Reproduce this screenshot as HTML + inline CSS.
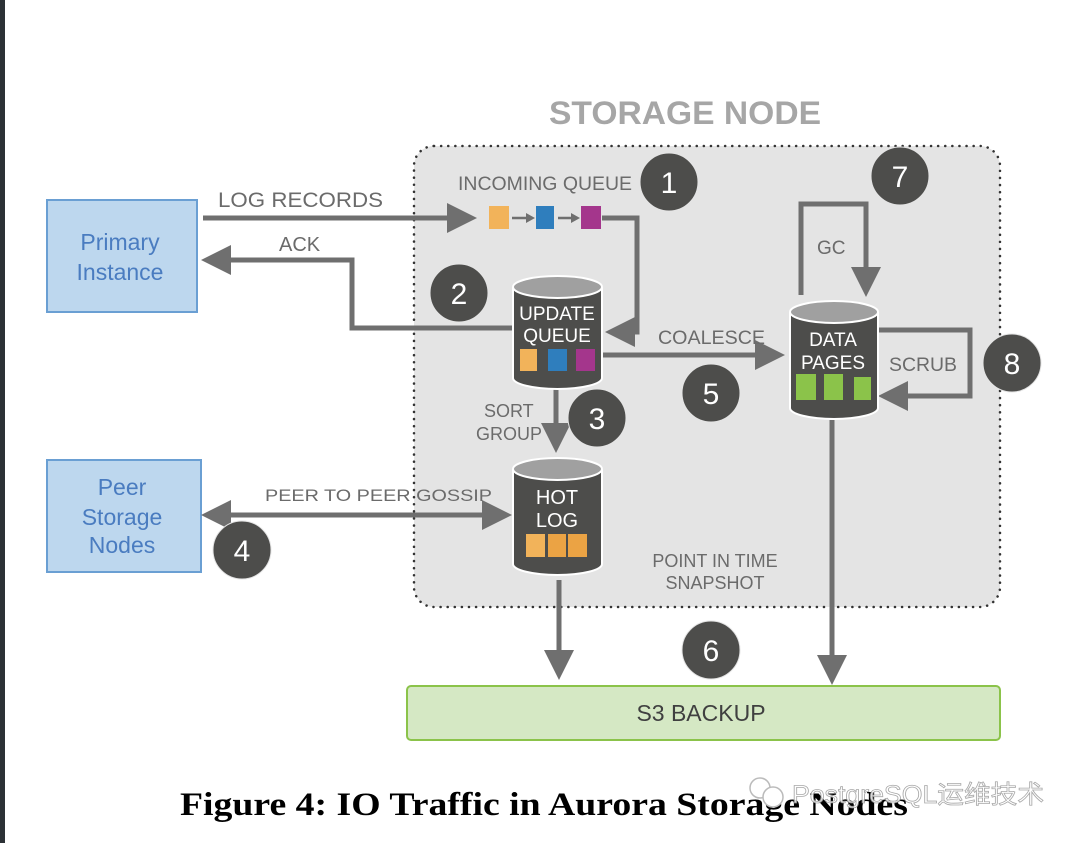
<!DOCTYPE html>
<html><head><meta charset="utf-8"><style>
html,body{margin:0;padding:0;background:#fff}
svg{display:block}
</style></head><body>
<svg width="1080" height="843" viewBox="0 0 1080 843" xmlns="http://www.w3.org/2000/svg" font-family="Liberation Sans, sans-serif">
<defs>
<marker id="ah" markerWidth="6" markerHeight="6" refX="3" refY="3" orient="auto-start-reverse" markerUnits="strokeWidth"><path d="M0,0 L6,3 L0,6z" fill="#6f6f6f"/></marker>
</defs>
<rect x="0" y="0" width="5" height="843" fill="#2c3136"/>
<text x="685" y="124" text-anchor="middle" font-size="32" font-weight="bold" fill="#a6a6a6" textLength="272" lengthAdjust="spacingAndGlyphs">STORAGE NODE</text>
<rect x="414" y="146" width="586" height="461" rx="20" fill="#e4e4e4" stroke="#333" stroke-width="2.5" stroke-dasharray="0.1 7" stroke-linecap="round"/>

<rect x="47" y="200" width="150" height="112" fill="#bdd7ee" stroke="#6a9fd3" stroke-width="2"/>
<text x="120" y="250" text-anchor="middle" font-size="23" fill="#4a7cc0">Primary</text>
<text x="120" y="280" text-anchor="middle" font-size="23" fill="#4a7cc0">Instance</text>
<rect x="47" y="460" width="154" height="112" fill="#bdd7ee" stroke="#6a9fd3" stroke-width="2"/>
<text x="122" y="495" text-anchor="middle" font-size="23" fill="#4a7cc0">Peer</text>
<text x="122" y="525" text-anchor="middle" font-size="23" fill="#4a7cc0">Storage</text>
<text x="122" y="553" text-anchor="middle" font-size="23" fill="#4a7cc0">Nodes</text>

<g stroke="#6f6f6f" stroke-width="5" fill="none">
<path d="M203,218 H462" marker-end="url(#ah)"/>
<path d="M602,218 H637 V332 H620" marker-end="url(#ah)"/>
<path d="M512,328 H352 V260 H216" marker-end="url(#ah)"/>
<path d="M602,355 H770" marker-end="url(#ah)"/>
<path d="M801,295 V204 H866 V282" marker-end="url(#ah)"/>
<path d="M878,330 H970 V396 H893" marker-end="url(#ah)"/>
<path d="M556,388 V438" marker-end="url(#ah)"/>
<path d="M216,515 H497" marker-end="url(#ah)" marker-start="url(#ah)"/>
<path d="M559,580 V665" marker-end="url(#ah)"/>
<path d="M832,420 V670" marker-end="url(#ah)"/>
</g>
<g stroke="#6f6f6f" stroke-width="2.5">
<path d="M512,218 H526"/><path d="M558,218 H571"/>
</g>
<path d="M526,213 L535,218 L526,223z M571,213 L580,218 L571,223z" fill="#6f6f6f"/>
<rect x="489" y="206" width="20" height="23" fill="#f2b35a"/>
<rect x="536" y="206" width="18" height="23" fill="#2f7ebd"/>
<rect x="581" y="206" width="20" height="23" fill="#a4368c"/>

<g font-size="19" fill="#6b6b6b">
<text x="218" y="207" font-size="21" textLength="165" lengthAdjust="spacingAndGlyphs">LOG RECORDS</text>
<text x="279" y="251" font-size="20">ACK</text>
<text x="458" y="190" textLength="174" lengthAdjust="spacingAndGlyphs">INCOMING QUEUE</text>
<text x="658" y="344" textLength="107" lengthAdjust="spacingAndGlyphs">COALESCE</text>
<text x="817" y="254">GC</text>
<text x="889" y="371" textLength="68" lengthAdjust="spacingAndGlyphs">SCRUB</text>
<text x="484" y="417" font-size="18">SORT</text>
<text x="476" y="440" font-size="18">GROUP</text>
<text x="265" y="501" font-size="17" textLength="227" lengthAdjust="spacingAndGlyphs">PEER TO PEER GOSSIP</text>
<text x="715" y="567" font-size="18" text-anchor="middle">POINT IN TIME</text>
<text x="715" y="589" font-size="18" text-anchor="middle">SNAPSHOT</text>
</g>

<g>
<path d="M513,287 V378 A44.5,11 0 0 0 602,378 V287" fill="#4d4d4b" stroke="#fff" stroke-width="2"/>
<ellipse cx="557.5" cy="287" rx="44.5" ry="11" fill="#a0a0a0" stroke="#fff" stroke-width="2"/>
<text x="557" y="320" text-anchor="middle" font-size="19" fill="#fff">UPDATE</text>
<text x="557" y="342" text-anchor="middle" font-size="19" fill="#fff">QUEUE</text>
<rect x="520" y="349" width="17" height="22" fill="#f2b35a"/><rect x="548" y="349" width="19" height="22" fill="#2f7ebd"/><rect x="576" y="349" width="19" height="22" fill="#a4368c"/>

<path d="M513,469 V564 A44.5,11 0 0 0 602,564 V469" fill="#4d4d4b" stroke="#fff" stroke-width="2"/>
<ellipse cx="557.5" cy="469" rx="44.5" ry="11" fill="#a0a0a0" stroke="#fff" stroke-width="2"/>
<text x="557" y="504" text-anchor="middle" font-size="20" fill="#fff">HOT</text>
<text x="557" y="527" text-anchor="middle" font-size="20" fill="#fff">LOG</text>
<rect x="526" y="534" width="19" height="23" fill="#f2b35a"/><rect x="548" y="534" width="18" height="23" fill="#eba344"/><rect x="568" y="534" width="19" height="23" fill="#eba344"/>

<path d="M790,312 V408 A44,11 0 0 0 878,408 V312" fill="#4d4d4b" stroke="#fff" stroke-width="2"/>
<ellipse cx="834" cy="312" rx="44" ry="11" fill="#a0a0a0" stroke="#fff" stroke-width="2"/>
<text x="833" y="346" text-anchor="middle" font-size="19" fill="#fff">DATA</text>
<text x="833" y="369" text-anchor="middle" font-size="19" fill="#fff">PAGES</text>
<rect x="796" y="374" width="20" height="26" fill="#8bc34a"/><rect x="824" y="374" width="19" height="26" fill="#8bc34a"/><rect x="854" y="377" width="17" height="23" fill="#8bc34a"/>
</g>

<g fill="#4d4d4b" stroke="#e4e4e4" stroke-width="1">
<circle cx="669" cy="182" r="29"/><circle cx="459" cy="293" r="29"/><circle cx="597" cy="418" r="29"/>
<circle cx="242" cy="550" r="29"/><circle cx="711" cy="393" r="29"/><circle cx="711" cy="650" r="29"/>
<circle cx="900" cy="176" r="29"/><circle cx="1012" cy="363" r="29"/>
</g>
<g fill="#fff" font-size="30" text-anchor="middle">
<text x="669" y="193">1</text><text x="459" y="304">2</text><text x="597" y="429">3</text>
<text x="242" y="561">4</text><text x="711" y="404">5</text><text x="711" y="661">6</text>
<text x="900" y="187">7</text><text x="1012" y="374">8</text>
</g>

<rect x="407" y="686" width="593" height="54" rx="4" fill="#d5e8c4" stroke="#8bc34a" stroke-width="2"/>
<text x="701" y="721" text-anchor="middle" font-size="23" fill="#404040">S3 BACKUP</text>

<text x="180" y="815" font-family="Liberation Serif, serif" font-weight="bold" font-size="33" fill="#000" textLength="728" lengthAdjust="spacingAndGlyphs">Figure 4: IO Traffic in Aurora Storage Nodes</text>
<text x="792" y="803" font-family="Liberation Sans, Noto Sans CJK SC, sans-serif" font-size="25" fill="#fff" stroke="#999" stroke-width="0.8" opacity="0.85" textLength="252" lengthAdjust="spacingAndGlyphs">PostgreSQL运维技术</text>
<circle cx="760" cy="788" r="10" fill="none" stroke="#bbb" stroke-width="1.5"/>
<circle cx="773" cy="797" r="10" fill="#fff" stroke="#bbb" stroke-width="1.5"/>
</svg>
</body></html>
